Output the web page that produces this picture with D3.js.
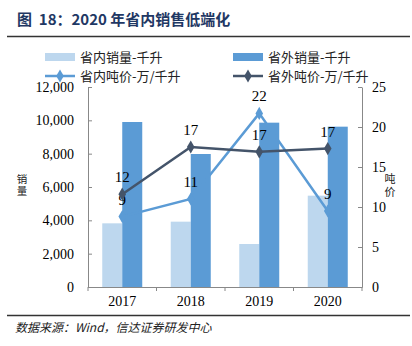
<!DOCTYPE html>
<html><head><meta charset="utf-8">
<script src="https://cdn.jsdelivr.net/npm/d3@7"></script>
<style>body{margin:0;background:#fff}svg{display:block}</style>
</head><body>
<script>
const years = ["2017","2018","2019","2020"];
const inVol = [3820, 3920, 2580, 5480];
const outVol = [9900, 7980, 9860, 9620];
const inPrice = [8.8, 11.0, 21.7, 9.5];
const outPrice = [11.6, 17.5, 16.9, 17.3];
const inLabels = ["9","11","22","9"];
const outLabels = ["12","17","17","17"];
const leftTicks = [0,2000,4000,6000,8000,10000,12000];
const rightTicks = [0,5,10,15,20,25];
const seriesNames = ["省内销量-千升","省外销量-千升","省内吨价-万/千升","省外吨价-万/千升"];

const W=412,H=346;
const svg=d3.select("body").append("svg").attr("width",W).attr("height",H);
const serif="'Liberation Serif','Times New Roman',serif";
const cjk="'Noto Sans CJK SC',sans-serif";
const cLight="#BDD7EE", cDark="#5B9BD5", cLine1="#5B9BD5", cLine2="#44546A";

// title
svg.append("text").attr("x",17).attr("y",25).attr("font-family",cjk).attr("font-weight","bold")
  .attr("font-size",15).attr("fill","#1F3864").style("white-space","pre").text("图  18：2020 年省内销售低端化");
svg.append("line").attr("x1",7).attr("x2",410).attr("y1",36.5).attr("y2",36.5).attr("stroke","#333").attr("stroke-width",1.5);

const L=88,R=362,T=87,B=287;
const x=d3.scaleBand().domain(years).range([L,R]);
const yL=d3.scaleLinear().domain([0,12000]).range([B,T]);
const yR=d3.scaleLinear().domain([0,25]).range([B,T]);
const bw=20;

// bars
const g=svg.append("g");
g.selectAll(".b1").data(years).join("rect").attr("x",d=>x(d)+x.bandwidth()/2-bw)
  .attr("y",(d,i)=>yL(inVol[i])).attr("width",bw).attr("height",(d,i)=>B-yL(inVol[i])).attr("fill",cLight);
g.selectAll(".b2").data(years).join("rect").attr("x",d=>x(d)+x.bandwidth()/2)
  .attr("y",(d,i)=>yL(outVol[i])).attr("width",bw).attr("height",(d,i)=>B-yL(outVol[i])).attr("fill",cDark);

// axes
const axColor="#888";
const la=svg.append("g").attr("transform",`translate(${L},0)`)
  .call(d3.axisLeft(yL).tickValues(leftTicks).tickFormat(d3.format(",")).tickSizeInner(-4).tickSizeOuter(0).tickPadding(14));
const ra=svg.append("g").attr("transform",`translate(${R},0)`)
  .call(d3.axisRight(yR).tickValues(rightTicks).tickSizeInner(-4).tickSizeOuter(0).tickPadding(10));
const xa=svg.append("g").attr("transform",`translate(0,${B})`)
  .call(d3.axisBottom(x).tickSize(0).tickPadding(7));
[la,ra,xa].forEach(a=>{a.selectAll("path,line").attr("stroke",axColor);
  a.selectAll("text").attr("font-family",serif).attr("font-size",14).attr("fill","#000");});
xa.selectAll("text").attr("dy","0.85em");
// x ticks between categories
svg.selectAll(".xt").data(d3.range(0,5)).join("line")
  .attr("x1",k=>L+k*x.bandwidth()).attr("x2",k=>L+k*x.bandwidth()).attr("y1",B).attr("y2",B+4).attr("stroke",axColor);

// lines
const line=arr=>d3.line().x((d,i)=>x(years[i])+x.bandwidth()/2).y(d=>yR(d))(arr);
const diamond=d3.symbol().type(d3.symbolDiamond).size(50);
function drawLine(vals,col,labels){
  svg.append("path").attr("d",line(vals)).attr("fill","none").attr("stroke",col).attr("stroke-width",2.5);
  svg.selectAll(null).data(vals).join("path").attr("d",diamond)
    .attr("transform",(d,i)=>`translate(${x(years[i])+x.bandwidth()/2},${yR(d)})`).attr("fill",col);
  svg.selectAll(null).data(vals).join("text").attr("x",(d,i)=>x(years[i])+x.bandwidth()/2)
    .attr("y",d=>yR(d)-12).attr("text-anchor","middle").attr("font-family",serif).attr("font-size",15)
    .text((d,i)=>labels[i]);
}
drawLine(inPrice,cLine1,inLabels);
drawLine(outPrice,cLine2,outLabels);

// axis titles (vertical text)
function vTitle(cx,cy,txt,fs,ls){
  svg.append("text").attr("x",cx).attr("y",cy).attr("text-anchor","middle")
    .style("writing-mode","vertical-rl").style("letter-spacing",ls+"px")
    .attr("font-family",cjk).attr("font-size",fs).attr("fill","#222").text(txt);
}
vTitle(22,186,"销量",10.5,1.5);
vTitle(390,186,"吨价",11,2);

// legend
const lg=[{x:45,y:57,t:"rect",c:cLight},{x:233,y:57,t:"rect",c:cDark},{x:45,y:76,t:"line",c:cLine1},{x:233,y:76,t:"line",c:cLine2}];
lg.forEach((d,i)=>{
  if(d.t==="rect") svg.append("rect").attr("x",d.x).attr("y",d.y-4).attr("width",30).attr("height",8).attr("fill",d.c);
  else{svg.append("line").attr("x1",d.x).attr("x2",d.x+30).attr("y1",d.y).attr("y2",d.y).attr("stroke",d.c).attr("stroke-width",2.5);
    svg.append("path").attr("d",diamond).attr("transform",`translate(${d.x+15},${d.y})`).attr("fill",d.c);}
  svg.append("text").attr("x",d.x+35).attr("y",d.y+4.5).attr("font-family",cjk).attr("font-size",13).attr("fill","#222").text(seriesNames[i]);
});

// footer
svg.append("line").attr("x1",7).attr("x2",410).attr("y1",315.5).attr("y2",315.5).attr("stroke","#333").attr("stroke-width",1.5);
svg.append("text").attr("x",15).attr("y",332).attr("font-family",cjk).attr("font-style","italic").attr("font-size",12)
  .attr("fill","#222").text("数据来源：Wind，信达证券研发中心");
</script>
</body></html>
